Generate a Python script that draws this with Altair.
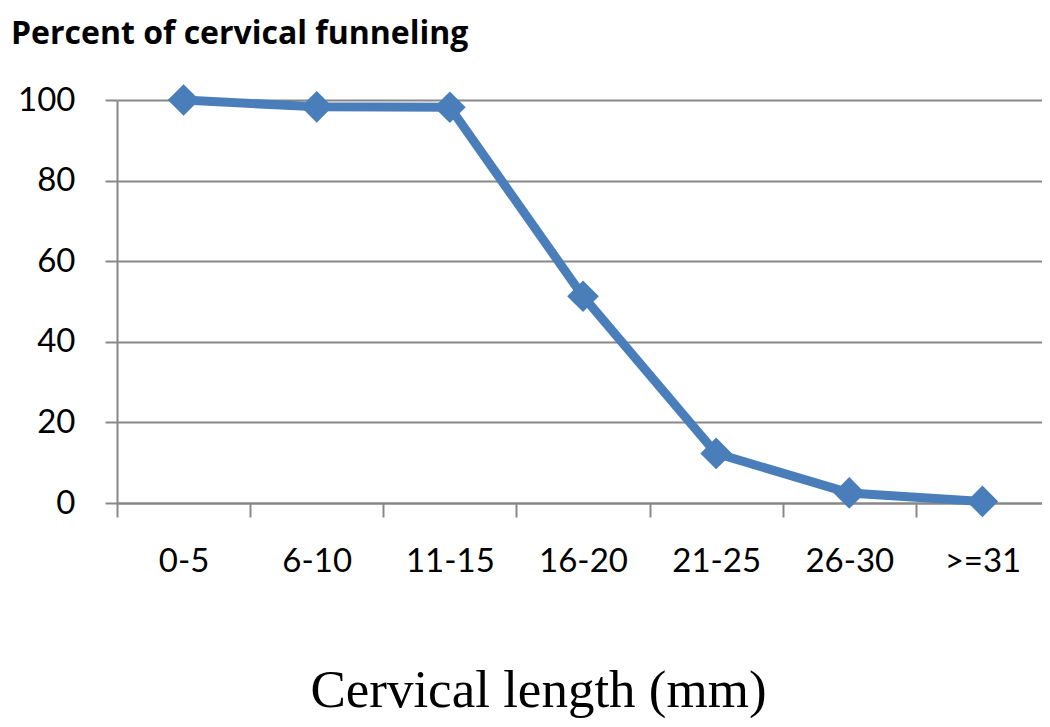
import altair as alt
import pandas as pd

categories = ["0-5", "6-10", "11-15", "16-20", "21-25", "26-30", ">=31"]
percent = [100, 98.3, 98.2, 51.3, 12.3, 2.5, 0.4]
y_ticks = [0, 20, 40, 60, 80, 100]
chart_title = "Percent of cervical funneling"
x_title = "Cervical length (mm)"

df = pd.DataFrame({"cat": categories, "pct": percent})
tdf = pd.DataFrame({"t": [chart_title]})

x = alt.X("cat:N", sort=categories,
          scale=alt.Scale(paddingInner=0, paddingOuter=0, range=[0, 932]),
          axis=alt.Axis(title=x_title, labelAngle=0,
                        labelFont="Lato", labelFontSize=33, labelColor="#000",
                        labelPadding=28, tickBand="extent", tickSize=14,
                        tickColor="#888", tickWidth=2, domainColor="#888",
                        domainWidth=2, titleFont="Liberation Serif",
                        titleFontSize=53, titleFontWeight="normal",
                        titleColor="#000", titleBaseline="alphabetic",
                        titleAlign="center", titleX=421, titleY=203))
y = alt.Y("pct:Q", scale=alt.Scale(domain=[0, 100]),
          axis=alt.Axis(title=None, values=y_ticks,
                        labelFont="Lato", labelFontSize=33, labelColor="#000",
                        labelPadding=30, tickSize=12, tickColor="#888",
                        tickWidth=2, domainColor="#888", domainWidth=2,
                        gridColor="#888", gridWidth=2))

line = alt.Chart(df).mark_line(color="#4a7ebb", strokeWidth=9).encode(x=x, y=y)
pts = alt.Chart(df).mark_point(shape="diamond", filled=True, size=1000,
                               color="#4a7ebb", opacity=1).encode(x=x, y=y)
ttl = alt.Chart(tdf).mark_text(font="Open Sans", fontSize=32, fontWeight="bold",
                               color="#000", align="left",
                               baseline="alphabetic").encode(
    text="t:N", x=alt.value(-106), y=alt.value(-56))

chart = alt.layer(line, pts, ttl).properties(
    width=925, height=403,
    padding={"left": 109, "top": 92, "right": 0, "bottom": 216},
    autosize=alt.AutoSizeParams(type="none"),
).configure_view(stroke=None)

chart.save("out.html", embed_options={"renderer": "svg", "actions": False})
